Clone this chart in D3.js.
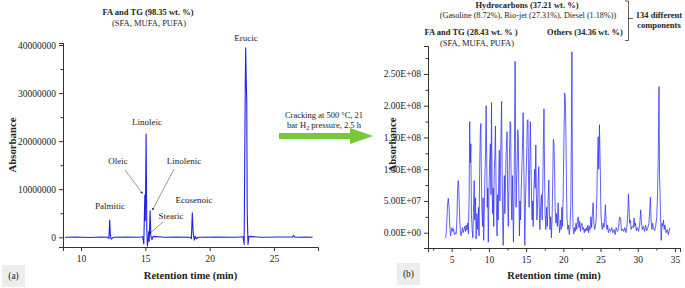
<!DOCTYPE html>
<html>
<head>
<meta charset="utf-8">
<script src="https://cdn.jsdelivr.net/npm/d3@7"></script>
<style>
  body { margin: 0; background: #fff; }
  svg text { font-family: "Liberation Serif", "Times New Roman", serif; fill: #222; }
</style>
</head>
<body>
<div id="chart"></div>
<script>
// ---- data (retention time in min, absorbance) ----
// (a) feedstock oil chromatogram, absorbance in millions
const leftTime = [8.76, 9.6, 10.6, 11.6, 12.1, 12.17, 12.23, 12.29, 12.36, 12.5, 13.5, 14.5, 14.8, 14.88,
    14.96, 15.0, 15.06, 15.11, 15.16, 15.22, 15.26, 15.3, 15.37, 15.43, 15.52, 15.6, 16.5, 17.5, 18.5,
    18.58, 18.65, 18.72, 18.8, 18.88, 18.95, 19.1, 20.5, 22.0, 22.6, 22.68, 22.76, 22.8, 22.84, 22.88,
    22.92, 22.98, 23.05, 24.0, 25.5, 26.45, 26.52, 26.6, 27.5, 28.0]
const leftAbsM = [0, 0.05, -0.05, 0.05, 0, -0.3, 3.6, 0.1, -0.4, 0, 0.05, 0, 0.1, -1.4,
    8.8, 3.5, 21.5, 2.0, -1.8, -0.5, 1.2, -0.8, 5.5, 0.2, -0.5, 0.2, 0, 0.05, 0,
    -0.3, 5.1, 1.0, -0.6, 0.2, -0.3, 0, 0.05, 0, 0.1, -1.5, 30, 39.4, 32.5, 28.5,
    5, -1.5, 0.2, 0, 0.05, 0.05, 0.4, 0, 0.05, 0]

// (b) cracked product chromatogram, absorbance in millions
const rightTime = [4.2, 4.3, 4.45, 4.55, 4.65, 4.75, 4.85, 4.95, 5.05, 5.15, 5.25, 5.35, 5.5, 5.6, 5.7, 5.8, 5.88,
    5.95, 6.05, 6.15, 6.25, 6.35, 6.45, 6.55, 6.65, 6.75, 6.85, 6.95, 7.05, 7.15, 7.25, 7.35, 7.42, 7.5,
    7.58, 7.65, 7.75, 7.85, 7.95, 8.02, 8.1, 8.2, 8.28, 8.38, 8.5, 8.6, 8.68, 8.75, 8.85, 8.92, 8.98,
    9.05, 9.15, 9.22, 9.3, 9.38, 9.45, 9.55, 9.63, 9.7, 9.78, 9.85, 9.92, 10.0, 10.1, 10.2, 10.28,
    10.35, 10.42, 10.5, 10.58, 10.65, 10.72, 10.8, 10.88, 10.95, 11.02, 11.1, 11.18, 11.25, 11.32,
    11.4, 11.48, 11.55, 11.62, 11.7, 11.78, 11.85, 11.92, 12.0, 12.08, 12.15, 12.22, 12.3, 12.38,
    12.45, 12.52, 12.6, 12.7, 12.78, 12.85, 12.92, 13.0, 13.08, 13.15, 13.22, 13.3, 13.38, 13.45,
    13.52, 13.58, 13.65, 13.72, 13.8, 13.88, 13.95, 14.02, 14.1, 14.18, 14.25, 14.35, 14.45, 14.52,
    14.6, 14.68, 14.75, 14.82, 14.9, 15.0, 15.08, 15.17, 15.25, 15.32, 15.4, 15.5, 15.57, 15.65,
    15.72, 15.8, 15.88, 15.95, 16.05, 16.15, 16.22, 16.3, 16.38, 16.45, 16.55, 16.62, 16.7, 16.78,
    16.85, 16.95, 17.05, 17.15, 17.25, 17.33, 17.4, 17.48, 17.55, 17.65, 17.75, 17.85, 17.95, 18.05,
    18.12, 18.2, 18.3, 18.4, 18.5, 18.58, 18.66, 18.74, 18.82, 18.9, 19.0, 19.1, 19.2, 19.3, 19.4,
    19.5, 19.6, 19.7, 19.8, 19.88, 19.98, 20.08, 20.18, 20.26, 20.35, 20.42, 20.5, 20.6, 20.7, 20.8,
    20.9, 21.0, 21.08, 21.15, 21.22, 21.3, 21.4, 21.5, 21.6, 21.7, 21.8, 21.9, 22.0, 22.1, 22.2, 22.3,
    22.4, 22.5, 22.6, 22.7, 22.8, 22.9, 23.0, 23.1, 23.2, 23.3, 23.4, 23.5, 23.6, 23.7, 23.8, 23.9,
    24.0, 24.1, 24.2, 24.3, 24.4, 24.5, 24.6, 24.68, 24.76, 24.85, 24.95, 25.05, 25.15, 25.25, 25.35,
    25.45, 25.55, 25.65, 25.75, 25.85, 25.95, 26.05, 26.2, 26.35, 26.5, 26.65, 26.8, 26.95, 27.1,
    27.25, 27.4, 27.55, 27.7, 27.8, 27.95, 28.1, 28.25, 28.4, 28.55, 28.65, 28.75, 28.82, 28.9, 29.0,
    29.1, 29.25, 29.4, 29.5, 29.6, 29.7, 29.8, 29.95, 30.1, 30.25, 30.4, 30.5, 30.6, 30.75, 30.9,
    31.05, 31.2, 31.35, 31.5, 31.6, 31.7, 31.78, 31.9, 32.0, 32.1, 32.25, 32.4, 32.55, 32.65, 32.75,
    32.85, 32.92, 33.0, 33.08, 33.15, 33.25, 33.35, 33.45, 33.55, 33.65, 33.8, 33.95, 34.1, 34.3]
const rightAbsM = [-8, 5, 45, 54, 40, 10, -5, 3, 8, 2, 6, -3, 0, -2, 20, 70, 82,
    75, 30, 5, -5, 2, 8, 0, 5, 10, 2, 12, 4, 15, -2, 60, 175, 110,
    140, 30, 5, -8, 45, 82, 20, 55, -10, 30, 5, 40, -5, 90, 160, 172, 100,
    40, 10, 55, -12, 30, 80, 130, 200, 120, 40, 70, -15, 60, 110, 140, 60,
    205, 90, 30, 70, 10, 100, 120, 168, 80, 30, -5, 60, 20, 90,
    130, 50, 100, 150, 207, 100, 20, -20, 40, 90, 30, 70, 120, 146,
    159, 60, 10, 80, 130, 175, 172, 60, 20, 90, 40, -15, 60, 160,
    270, 140, 40, 80, 110, 162, 151, 60, -5, 50, 20, 70, 110, 140,
    189, 120, 50, -20, 40, 90, 130, 177, 178, 90, 40, 120, 175, 110,
    60, 20, 50, 10, 70, 100, 70, 138, 60, 20, 50, 80, 104, 30,
    5, 40, 60, 20, 80, 150, 195, 90, 30, 5, 40, 10, 50, 83,
    40, 5, 25, -8, 30, 90, 147, 140, 100, 40, 15, 30, 10, 47, 15,
    0, 20, 5, 40, 10, 60, 150, 220, 210, 155, 70, 20, 5, 12, -3,
    10, 40, 150, 285, 60, 10, -2, 8, 2, 15, 5, 20, 25, 8, 18, 2,
    12, 15, 5, 8, 0, 6, 2, 8, 3, 12, 0, 10, 5, 25, 8, 30,
    47, 15, 5, 10, 20, 60, 120, 151, 100, 170, 110, 30, 10, 5, 15,
    8, 20, 44, 15, 5, 12, 0, 6, 2, 8, 0, 5, -3, 8,
    2, 5, 25, 22, 3, 6, 2, 8, 0, 10, 30, 61, 40, 15, 20,
    5, 10, 8, 23, 10, 15, 3, 8, 2, 12, 36, 15, 5, 10, 2,
    12, 3, 8, 15, 35, 56, 20, 5, 15, 8, 3, 10, 25, 60, 120,
    230, 90, 60, 15, -12, 15, 10, 20, 5, 12, 0, 5, -3, 8]

const leftTicksY = [0, 10000000, 20000000, 30000000, 40000000]
const leftTicksX = [10, 15, 20, 25]
const rightTicksY = [0, 5e7, 1e8, 1.5e8, 2e8, 2.5e8]
const rightTicksX = [5, 10, 15, 20, 25, 30, 35]

const leftPeaks = [
    {name: "Erucic", x: 246, y: 41},
    {name: "Linoleic", x: 147, y: 125},
    {name: "Oleic", x: 118, y: 164},
    {name: "Linolenic", x: 184, y: 164},
    {name: "Palmitic", x: 110, y: 209},
    {name: "Ecosenoic", x: 194, y: 203},
    {name: "Stearic", x: 171, y: 219}
]

const W = 685, H = 288
const svg = d3.select("#chart").append("svg")
    .attr("width", W).attr("height", H)

svg.append("defs").append("marker")
    .attr("id", "ah").attr("viewBox", "0 0 6 6").attr("refX", 5).attr("refY", 3)
    .attr("markerWidth", 4).attr("markerHeight", 4).attr("orient", "auto")
    .append("path").attr("d", "M0,0 L6,3 L0,6 Z").attr("fill", "#111")

function sciFmt(v) {
    if (v === 0) return "0.00E+00"
    const e = Math.floor(Math.log10(Math.abs(v)))
    const m = v / Math.pow(10, e)
    return m.toFixed(2) + "E+" + String(e).padStart(2, "0")
}

function styleAxis(g) {
    g.select(".domain").attr("stroke", "#333").attr("stroke-width", 1)
    g.selectAll(".tick line").attr("stroke", "#333")
    g.selectAll(".tick text").attr("font-size", "9.5px").attr("fill", "#222")
        .attr("font-family", "Liberation Serif")
}

// panel builder
function panel(opts) {
    const x = d3.scaleLinear().domain(opts.xDomain).range([opts.left, opts.right])
    const y = d3.scaleLinear().domain(opts.yDomain).range([opts.bottom, opts.top])
    const g = svg.append("g")

    // minor ticks
    if (opts.xMinor) {
        g.append("g").attr("transform", `translate(0,${opts.bottom})`)
            .call(d3.axisBottom(x).tickValues(opts.xMinor).tickSize(2.5).tickFormat(""))
            .call(styleAxis)
    }
    g.append("g").attr("transform", `translate(${opts.left},0)`)
        .call(d3.axisLeft(y).tickValues(opts.yMinor).tickSize(2.5).tickFormat(""))
        .call(styleAxis)

    g.append("g").attr("transform", `translate(0,${opts.bottom})`)
        .call(d3.axisBottom(x).tickValues(opts.xTicks).tickSize(4).tickPadding(4).tickFormat(d3.format("d")))
        .call(styleAxis)
    g.append("g").attr("transform", `translate(${opts.left},0)`)
        .call(d3.axisLeft(y).tickValues(opts.yTicks).tickSize(4).tickPadding(3).tickFormat(opts.yFmt))
        .call(styleAxis)

    const pts = opts.t.map((t, i) => [t, opts.v[i] * 1e6])
    g.append("path")
        .datum(pts)
        .attr("fill", "none")
        .attr("stroke", opts.color)
        .attr("stroke-width", opts.lw)
        .attr("stroke-linejoin", "round")
        .attr("d", d3.line().x(d => x(d[0])).y(d => y(d[1])))

    g.append("text")
        .attr("x", (opts.left + opts.right) / 2).attr("y", 279)
        .attr("text-anchor", "middle").attr("font-size", "10.5px").attr("font-weight", "bold")
        .text("Retention time (min)")
    g.append("text")
        .attr("transform", `translate(${opts.titleX},${opts.titleY}) rotate(-90)`)
        .attr("text-anchor", "middle").attr("font-size", "10.8px").attr("font-weight", "bold")
        .text("Absorbance")
    return {x, y, g}
}

const pa = panel({
    left: 63, right: 318, top: 43, bottom: 247,
    xDomain: [8.6, 28.42], yDomain: [-2.02e6, 40.42e6],
    xTicks: leftTicksX, xMinor: null,
    yTicks: leftTicksY, yMinor: [5e6, 15e6, 25e6, 35e6],
    yFmt: d3.format("d"),
    t: leftTime, v: leftAbsM, color: "#2323e8", lw: 1.1,
    titleX: 16, titleY: 145
})

const pb = panel({
    left: 428, right: 680, top: 46, bottom: 248,
    xDomain: [1.82, 35.67], yDomain: [-24.1e6, 294e6],
    xTicks: rightTicksX, xMinor: [2.5, 7.5, 12.5, 17.5, 22.5, 27.5, 32.5],
    yTicks: rightTicksY, yMinor: [2.5e7, 7.5e7, 1.25e8, 1.75e8, 2.25e8, 2.75e8],
    yFmt: sciFmt,
    t: rightTime, v: rightAbsM, color: "#2c2cf5", lw: 0.75,
    titleX: 396, titleY: 145
})

// peak labels (a)
pa.g.selectAll(".peak").data(leftPeaks).join("text")
    .attr("x", d => d.x).attr("y", d => d.y)
    .attr("text-anchor", "middle").attr("font-size", "9px")
    .text(d => d.name)

const arrows = [[125, 170, 142.5, 193.5], [174, 169, 152.5, 210], [163, 222, 149.5, 233.5]]
pa.g.selectAll(".arr").data(arrows).join("line")
    .attr("x1", d => d[0]).attr("y1", d => d[1]).attr("x2", d => d[2]).attr("y2", d => d[3])
    .attr("stroke", "#555").attr("stroke-width", 0.6).attr("marker-end", "url(#ah)")

const note = svg.append("g")
note.append("text").attr("x", 148).attr("y", 15).attr("text-anchor", "middle")
    .attr("font-size", "8.5px").attr("font-weight", "bold").text("FA and TG (98.35 wt. %)")
note.append("text").attr("x", 149).attr("y", 25.5).attr("text-anchor", "middle")
    .attr("font-size", "8.5px").text("(SFA, MUFA, PUFA)")

// panel (b) notes
note.append("text").attr("x", 527).attr("y", 7.5).attr("text-anchor", "middle")
    .attr("font-size", "8.5px").attr("font-weight", "bold").text("Hydrocarbons (37.21 wt. %)")
note.append("text").attr("x", 528).attr("y", 18).attr("text-anchor", "middle")
    .attr("font-size", "8.2px").text("(Gasoline (8.72%), Bio-jet (27.31%), Diesel (1.18%))")
note.append("text").attr("x", 471).attr("y", 35).attr("text-anchor", "middle")
    .attr("font-size", "8.5px").attr("font-weight", "bold").text("FA and TG (28.43 wt. % )")
note.append("text").attr("x", 477).attr("y", 45.5).attr("text-anchor", "middle")
    .attr("font-size", "8.5px").text("(SFA, MUFA, PUFA)")
note.append("text").attr("x", 585).attr("y", 35).attr("text-anchor", "middle")
    .attr("font-size", "8.5px").attr("font-weight", "bold").text("Others (34.36 wt. %)")
note.append("path")
    .attr("d", "M625,1 H628.5 V40.5 H625 M628.5,18.5 H633")
    .attr("fill", "none").attr("stroke", "#333").attr("stroke-width", 0.8)
note.append("text").attr("x", 659).attr("y", 18).attr("text-anchor", "middle")
    .attr("font-size", "8.5px").attr("font-weight", "bold").text("134 different")
note.append("text").attr("x", 659).attr("y", 28).attr("text-anchor", "middle")
    .attr("font-size", "8.5px").attr("font-weight", "bold").text("components")

// process arrow
note.append("path")
    .attr("d", "M279,133 H350 V128 L373,136 L350,144 V139 H279 Z")
    .attr("fill", "#78c83c")
const cond = note.append("text").attr("x", 324).attr("y", 118).attr("text-anchor", "middle")
    .attr("font-size", "8.5px")
cond.append("tspan").text("Cracking at 500 °C, 21")
const l2 = note.append("text").attr("x", 324).attr("y", 127.5).attr("text-anchor", "middle")
    .attr("font-size", "8.5px")
l2.append("tspan").text("bar H")
l2.append("tspan").attr("font-size", "6px").attr("dy", 2).text("2")
l2.append("tspan").attr("dy", -2).text(" pressure, 2.5 h")

// panel tags
note.append("rect").attr("x", 2).attr("y", 265).attr("width", 23).attr("height", 22).attr("fill", "#ededed")
note.append("text").attr("x", 13.5).attr("y", 279).attr("text-anchor", "middle").attr("font-size", "9.5px").text("(a)")
note.append("rect").attr("x", 397).attr("y", 263).attr("width", 23).attr("height", 22).attr("fill", "#ededed")
note.append("text").attr("x", 408.5).attr("y", 277).attr("text-anchor", "middle").attr("font-size", "9.5px").text("(b)")
</script>
</body>
</html>
